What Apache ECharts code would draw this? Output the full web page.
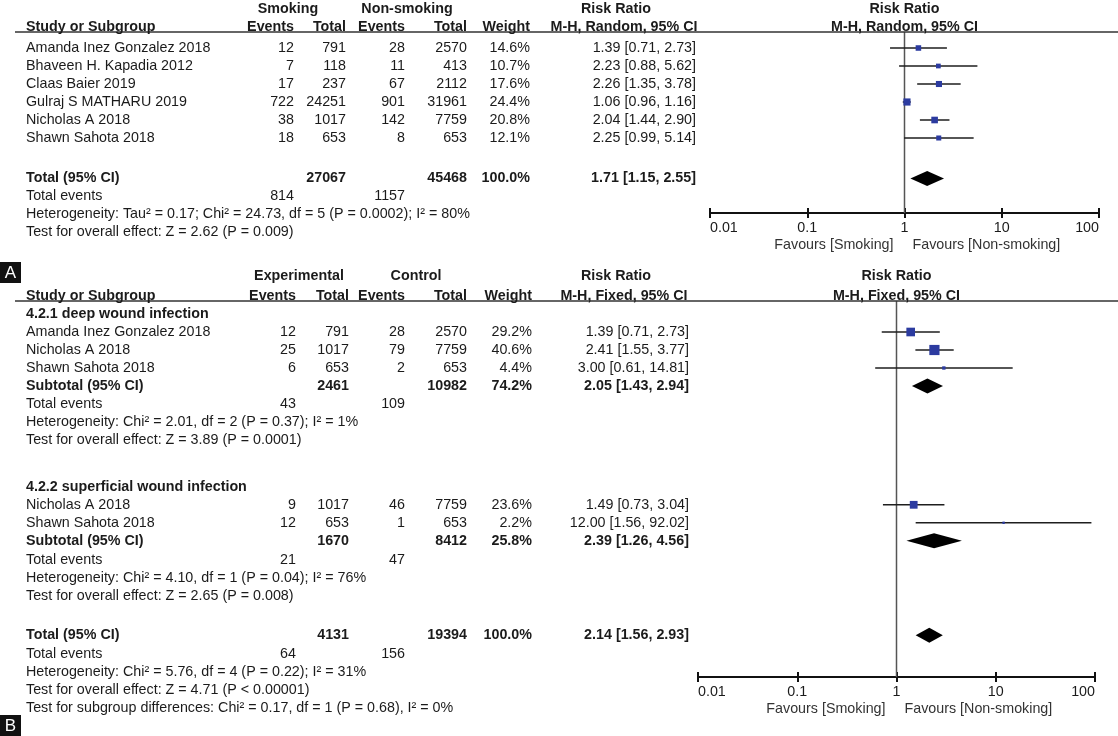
<!DOCTYPE html>
<html><head><meta charset="utf-8">
<script src="https://cdn.jsdelivr.net/npm/echarts@6/dist/echarts.min.js"></script>
<style>html,body{margin:0;padding:0;background:#fff}#c{width:1118px;height:736px}</style>
</head><body><div id="c"></div>
<script>
// ================= DATA =================
const tickLabels = ['0.01', '0.1', '1', '10', '100'];
const tickValues = [0.01, 0.1, 1, 10, 100];

// ---- Panel A ----
const groupNamesA = ['Smoking', 'Non-smoking'];
const studiesA = ['Amanda Inez Gonzalez 2018', 'Bhaveen H. Kapadia 2012', 'Claas Baier 2019', 'Gulraj S MATHARU 2019', 'Nicholas A 2018', 'Shawn Sahota 2018'];
const eventsA1 = [12, 7, 17, 722, 38, 18];
const totalsA1 = [791, 118, 237, 24251, 1017, 653];
const eventsA2 = [28, 11, 67, 901, 142, 8];
const totalsA2 = [2570, 413, 2112, 31961, 7759, 653];
const weightA = [14.6, 10.7, 17.6, 24.4, 20.8, 12.1];
const rrA = [1.39, 2.23, 2.26, 1.06, 2.04, 2.25];
const loA = [0.71, 0.88, 1.35, 0.96, 1.44, 0.99];
const hiA = [2.73, 5.62, 3.78, 1.16, 2.90, 5.14];
const pooledA = [1.71, 1.15, 2.55];            // rr, lo, hi
const pooledTotalsA = [27067, 45468];
const pooledWeightA = 100.0;
const pooledEventsA = [814, 1157];
const methodA = 'M-H, Random, 95% CI';
const hetA = 'Heterogeneity: Tau\u00b2 = 0.17; Chi\u00b2 = 24.73, df = 5 (P = 0.0002); I\u00b2 = 80%';
const testA = 'Test for overall effect: Z = 2.62 (P = 0.009)';
const favoursA = ['Favours [Smoking]', 'Favours [Non-smoking]'];

// ---- Panel B ----
const groupNamesB = ['Experimental', 'Control'];
const subgroupTitlesB = ['4.2.1 deep wound infection', '4.2.2 superficial wound infection'];
const studiesB1 = ['Amanda Inez Gonzalez 2018', 'Nicholas A 2018', 'Shawn Sahota 2018'];
const eventsB1a = [12, 25, 6];
const totalsB1a = [791, 1017, 653];
const eventsB1b = [28, 79, 2];
const totalsB1b = [2570, 7759, 653];
const weightB1 = [29.2, 40.6, 4.4];
const rrB1 = [1.39, 2.41, 3.00];
const loB1 = [0.71, 1.55, 0.61];
const hiB1 = [2.73, 3.77, 14.81];
const subB1 = [2.05, 1.43, 2.94];
const subTotalsB1 = [2461, 10982];
const subWeightB1 = 74.2;
const subEventsB1 = [43, 109];
const hetB1 = 'Heterogeneity: Chi\u00b2 = 2.01, df = 2 (P = 0.37); I\u00b2 = 1%';
const testB1 = 'Test for overall effect: Z = 3.89 (P = 0.0001)';

const studiesB2 = ['Nicholas A 2018', 'Shawn Sahota 2018'];
const eventsB2a = [9, 12];
const totalsB2a = [1017, 653];
const eventsB2b = [46, 1];
const totalsB2b = [7759, 653];
const weightB2 = [23.6, 2.2];
const rrB2 = [1.49, 12.00];
const loB2 = [0.73, 1.56];
const hiB2 = [3.04, 92.02];
const subB2 = [2.39, 1.26, 4.56];
const subTotalsB2 = [1670, 8412];
const subWeightB2 = 25.8;
const subEventsB2 = [21, 47];
const hetB2 = 'Heterogeneity: Chi\u00b2 = 4.10, df = 1 (P = 0.04); I\u00b2 = 76%';
const testB2 = 'Test for overall effect: Z = 2.65 (P = 0.008)';

const pooledB = [2.14, 1.56, 2.93];
const pooledTotalsB = [4131, 19394];
const pooledWeightB = 100.0;
const pooledEventsB = [64, 156];
const hetB = 'Heterogeneity: Chi\u00b2 = 5.76, df = 4 (P = 0.22); I\u00b2 = 31%';
const testB = 'Test for overall effect: Z = 4.71 (P < 0.00001)';
const testSubB = 'Test for subgroup differences: Chi\u00b2 = 0.17, df = 1 (P = 0.68), I\u00b2 = 0%';
const methodB = 'M-H, Fixed, 95% CI';
const favoursB = ['Favours [Smoking]', 'Favours [Non-smoking]'];

// ================= LAYOUT / STYLE =================
const FONT = '"Liberation Sans", Arial, Helvetica, sans-serif';
const FS = 14.3;
const TXT = '#1b1b1b';
const SQ_COLOR = '#2c3ba0';
const LAY = {
  A: { y0: 48, rowH: 18, left: 710, right: 1099, top: 32, bottom: 213, sq: 1.45, dH: 15,
       col: { study: 26, ev1: 294, tot1: 346, ev2: 405, tot2: 467, weight: 530, rr: 696, g1: 288, g2: 407, rrHead: 624 } },
  B: { y0: 314, rowH: 18, left: 698, right: 1095, top: 301, bottom: 677, sq: 1.6, dH: 15,
       col: { study: 26, ev1: 296, tot1: 349, ev2: 405, tot2: 467, weight: 532, rr: 689, g1: 299, g2: 416, rrHead: 624 } }
};
// row positions (in row units)
const RA = { h1: -2.17, h2: -1.17, studies: [0, 1, 2, 3, 4, 5], total: 7.25, events: 8.25, het: 9.25, test: 10.25 };
const RB = { h1: -2.11, h2: -1.0,
  g1: 0, s1: [1, 2, 3], sub1: 4, ev1: 5, het1: 6, test1: 7,
  g2: 9.6, s2: [10.6, 11.6], sub2: 12.6, ev2: 13.65, het2: 14.65, test2: 15.65,
  total: 17.85, events: 18.9, het: 19.9, test: 20.9, testSub: 21.9 };

function yRange(L) { return [(L.top - L.y0) / L.rowH, (L.bottom - L.y0) / L.rowH]; }
function rowPx(L, r) { return L.y0 + r * L.rowH; }

// ================= CHART =================
const chart = echarts.init(document.getElementById('c'), null, { renderer: 'canvas', width: 1118, height: 736 });

function xAxes(gi, L) {
  const h = L.bottom - L.top;
  const lab = v => { const i = Math.round(Math.log10(v)) + 2; return tickLabels[i] !== undefined ? tickLabels[i] : ''; };
  return [
    { type: 'log', logBase: 10, min: tickValues[0], max: tickValues[tickValues.length - 1], gridIndex: gi, position: 'bottom',
      axisLine: { show: true, onZero: false, lineStyle: { color: '#111', width: 2 } },
      axisTick: { show: true, length: 5, lineStyle: { color: '#111', width: 2 } },
      minorTick: { show: false }, splitLine: { show: false },
      axisLabel: { formatter: lab, margin: 8, fontSize: FS, fontFamily: FONT, color: TXT, alignMinLabel: 'left', alignMaxLabel: 'right' } },
    { type: 'log', logBase: 10, min: tickValues[0], max: tickValues[tickValues.length - 1], gridIndex: gi, position: 'top', offset: -h,
      axisLine: { show: false, onZero: false },
      axisTick: { show: true, length: 5, lineStyle: { color: '#111', width: 2 } },
      minorTick: { show: false }, splitLine: { show: false }, axisLabel: { show: false } }
  ];
}
function yAxis(gi, L) {
  const r = yRange(L);
  return { type: 'value', gridIndex: gi, inverse: true, min: r[0], max: r[1], show: false, splitLine: { show: false } };
}

function studyRenderer(k) {
  return function (params, api) {
    const rr = api.value(0), lo = api.value(1), hi = api.value(2), row = api.value(3), w = api.value(4);
    const p = api.coord([rr, row]), pl = api.coord([lo, row]), ph = api.coord([hi, row]);
    const s = Math.max(2, k * Math.sqrt(w));
    return { type: 'group', children: [
      { type: 'line', shape: { x1: pl[0], y1: p[1], x2: ph[0], y2: p[1] }, style: { stroke: '#1e1e1e', lineWidth: 1.5 } },
      { type: 'rect', shape: { x: p[0] - s / 2, y: p[1] - s / 2, width: s, height: s }, style: { fill: SQ_COLOR } }
    ] };
  };
}
function diamondRenderer(hgt) {
  return function (params, api) {
    const rr = api.value(0), lo = api.value(1), hi = api.value(2), row = api.value(3);
    const p = api.coord([rr, row]), pl = api.coord([lo, row]), ph = api.coord([hi, row]);
    return { type: 'polygon', shape: { points: [[pl[0], p[1]], [p[0], p[1] - hgt / 2], [ph[0], p[1]], [p[0], p[1] + hgt / 2]] },
             style: { fill: '#000' } };
  };
}

const studyDataA = studiesA.map((s, i) => [rrA[i], loA[i], hiA[i], RA.studies[i], weightA[i]]);
const diamondDataA = [[pooledA[0], pooledA[1], pooledA[2], RA.total]];
const studyDataB = studiesB1.map((s, i) => [rrB1[i], loB1[i], hiB1[i], RB.s1[i], weightB1[i]])
  .concat(studiesB2.map((s, i) => [rrB2[i], loB2[i], hiB2[i], RB.s2[i], weightB2[i]]));
const diamondDataB = [[subB1[0], subB1[1], subB1[2], RB.sub1], [subB2[0], subB2[1], subB2[2], RB.sub2], [pooledB[0], pooledB[1], pooledB[2], RB.total]];

const yrA = yRange(LAY.A), yrB = yRange(LAY.B);

chart.setOption({
  animation: false,
  backgroundColor: '#fff',
  textStyle: { fontFamily: FONT },
  grid: [
    { left: LAY.A.left, width: LAY.A.right - LAY.A.left, top: LAY.A.top, height: LAY.A.bottom - LAY.A.top, containLabel: false },
    { left: LAY.B.left, width: LAY.B.right - LAY.B.left, top: LAY.B.top, height: LAY.B.bottom - LAY.B.top, containLabel: false }
  ],
  xAxis: xAxes(0, LAY.A).concat(xAxes(1, LAY.B)),
  yAxis: [yAxis(0, LAY.A), yAxis(1, LAY.B)],
  series: [
    { type: 'line', xAxisIndex: 0, yAxisIndex: 0, data: [[1, yrA[0]], [1, yrA[1]]], symbol: 'none', silent: true,
      lineStyle: { color: '#555', width: 1.5 }, z: 1 },
    { type: 'custom', xAxisIndex: 0, yAxisIndex: 0, renderItem: studyRenderer(LAY.A.sq), data: studyDataA,
      encode: { x: [0, 1, 2], y: 3 }, z: 3 },
    { type: 'custom', xAxisIndex: 0, yAxisIndex: 0, renderItem: diamondRenderer(LAY.A.dH), data: diamondDataA,
      encode: { x: [0, 1, 2], y: 3 }, z: 3 },
    { type: 'line', xAxisIndex: 2, yAxisIndex: 1, data: [[1, yrB[0]], [1, yrB[1]]], symbol: 'none', silent: true,
      lineStyle: { color: '#555', width: 1.5 }, z: 1 },
    { type: 'custom', xAxisIndex: 2, yAxisIndex: 1, renderItem: studyRenderer(LAY.B.sq), data: studyDataB,
      encode: { x: [0, 1, 2], y: 3 }, z: 3 },
    { type: 'custom', xAxisIndex: 2, yAxisIndex: 1, renderItem: diamondRenderer(LAY.B.dH), data: diamondDataB,
      encode: { x: [0, 1, 2], y: 3 }, z: 3 }
  ]
});

// ================= TABLE TEXT =================
const G = [];
function T(text, x, y, align, bold, color, size) {
  G.push({ type: 'text', silent: true, z: 10,
    style: { text: String(text), x: x, y: y, align: align || 'left', verticalAlign: 'middle',
             font: (bold ? 'bold ' : '') + (size || FS) + 'px ' + FONT, fill: color || TXT } });
}
function fmtW(w) { return w.toFixed(1) + '%'; }
function fmtCI(a) { return a[0].toFixed(2) + ' [' + a[1].toFixed(2) + ', ' + a[2].toFixed(2) + ']'; }

function headerBlock(L, r1, r2, groups, method, plotX1) {
  const c = L.col, y1 = rowPx(L, r1), y2 = rowPx(L, r2);
  T(groups[0], c.g1, y1, 'center', true);
  T(groups[1], c.g2, y1, 'center', true);
  T('Risk Ratio', c.rrHead - 8, y1, 'center', true);
  T('Risk Ratio', plotX1, y1, 'center', true);
  T('Study or Subgroup', c.study, y2, 'left', true);
  T('Events', c.ev1, y2, 'right', true);
  T('Total', c.tot1, y2, 'right', true);
  T('Events', c.ev2, y2, 'right', true);
  T('Total', c.tot2, y2, 'right', true);
  T('Weight', c.weight, y2, 'right', true);
  T(method, c.rrHead, y2, 'center', true);
  T(method, plotX1, y2, 'center', true);
  G.push({ type: 'line', silent: true, z: 9, shape: { x1: 15, y1: L.top, x2: 1118, y2: L.top }, style: { stroke: '#333', lineWidth: 1.5 } });
}
function studyRow(L, r, name, e1, t1, e2, t2, w, ci) {
  const c = L.col, y = rowPx(L, r);
  T(name, c.study, y, 'left');
  T(e1, c.ev1, y, 'right'); T(t1, c.tot1, y, 'right');
  T(e2, c.ev2, y, 'right'); T(t2, c.tot2, y, 'right');
  T(fmtW(w), c.weight, y, 'right');
  T(fmtCI(ci), c.rr, y, 'right');
}
function totalRow(L, r, label, tots, w, ci) {
  const c = L.col, y = rowPx(L, r);
  T(label, c.study, y, 'left', true);
  T(tots[0], c.tot1, y, 'right', true); T(tots[1], c.tot2, y, 'right', true);
  T(fmtW(w), c.weight, y, 'right', true);
  T(fmtCI(ci), c.rr, y, 'right', true);
}
function eventsRow(L, r, ev) {
  const c = L.col, y = rowPx(L, r);
  T('Total events', c.study, y, 'left');
  T(ev[0], c.ev1, y, 'right'); T(ev[1], c.ev2, y, 'right');
}
function favours(L, labels, x1) {
  const y = L.bottom + 32;
  T(labels[0], x1 - 11, y, 'right', false, '#333');
  T(labels[1], x1 + 8, y, 'left', false, '#333');
}
function panelTag(letter, y) {
  G.push({ type: 'rect', silent: true, z: 10, shape: { x: 0, y: y, width: 21, height: 21 }, style: { fill: '#111' } });
  T(letter, 10.5, y + 11, 'center', false, '#fff', 17);
}

const x1A = chart.convertToPixel({ xAxisIndex: 0 }, 1);
const x1B = chart.convertToPixel({ xAxisIndex: 2 }, 1);

// Panel A
headerBlock(LAY.A, RA.h1, RA.h2, groupNamesA, methodA, x1A);
studiesA.forEach((s, i) => studyRow(LAY.A, RA.studies[i], s, eventsA1[i], totalsA1[i], eventsA2[i], totalsA2[i], weightA[i], [rrA[i], loA[i], hiA[i]]));
totalRow(LAY.A, RA.total, 'Total (95% CI)', pooledTotalsA, pooledWeightA, pooledA);
eventsRow(LAY.A, RA.events, pooledEventsA);
T(hetA, LAY.A.col.study, rowPx(LAY.A, RA.het), 'left');
T(testA, LAY.A.col.study, rowPx(LAY.A, RA.test), 'left');
favours(LAY.A, favoursA, x1A);
panelTag('A', 262);

// Panel B
headerBlock(LAY.B, RB.h1, RB.h2, groupNamesB, methodB, x1B);
T(subgroupTitlesB[0], LAY.B.col.study, rowPx(LAY.B, RB.g1), 'left', true);
studiesB1.forEach((s, i) => studyRow(LAY.B, RB.s1[i], s, eventsB1a[i], totalsB1a[i], eventsB1b[i], totalsB1b[i], weightB1[i], [rrB1[i], loB1[i], hiB1[i]]));
totalRow(LAY.B, RB.sub1, 'Subtotal (95% CI)', subTotalsB1, subWeightB1, subB1);
eventsRow(LAY.B, RB.ev1, subEventsB1);
T(hetB1, LAY.B.col.study, rowPx(LAY.B, RB.het1), 'left');
T(testB1, LAY.B.col.study, rowPx(LAY.B, RB.test1), 'left');
T(subgroupTitlesB[1], LAY.B.col.study, rowPx(LAY.B, RB.g2), 'left', true);
studiesB2.forEach((s, i) => studyRow(LAY.B, RB.s2[i], s, eventsB2a[i], totalsB2a[i], eventsB2b[i], totalsB2b[i], weightB2[i], [rrB2[i], loB2[i], hiB2[i]]));
totalRow(LAY.B, RB.sub2, 'Subtotal (95% CI)', subTotalsB2, subWeightB2, subB2);
eventsRow(LAY.B, RB.ev2, subEventsB2);
T(hetB2, LAY.B.col.study, rowPx(LAY.B, RB.het2), 'left');
T(testB2, LAY.B.col.study, rowPx(LAY.B, RB.test2), 'left');
totalRow(LAY.B, RB.total, 'Total (95% CI)', pooledTotalsB, pooledWeightB, pooledB);
eventsRow(LAY.B, RB.events, pooledEventsB);
T(hetB, LAY.B.col.study, rowPx(LAY.B, RB.het), 'left');
T(testB, LAY.B.col.study, rowPx(LAY.B, RB.test), 'left');
T(testSubB, LAY.B.col.study, rowPx(LAY.B, RB.testSub), 'left');
favours(LAY.B, favoursB, x1B);
panelTag('B', 715);

chart.setOption({ graphic: { elements: G } });
</script></body></html>
